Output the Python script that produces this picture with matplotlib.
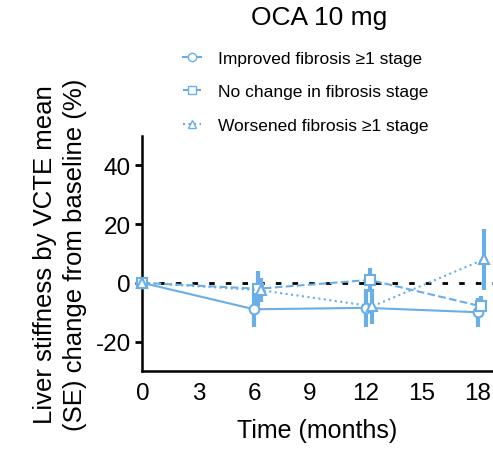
import matplotlib.pyplot as plt
from matplotlib.lines import Line2D

plt.rcParams['font.family'] = ['Liberation Sans', 'DejaVu Sans']
plt.rcParams['axes.unicode_minus'] = False

# Données
months = [0, 6, 12, 18]
improved = [0, -9.0, -8.5, -10.0]
improved_se = [0, 6.0, 6.5, 5.0]
no_change = [0, -2.0, 1.0, -8.0]
no_change_se = [0, 6.0, 4.0, 3.5]
worsened = [0, -2.5, -8.0, 8.0]
worsened_se = [0, 4.0, 6.0, 10.5]

labels = ["Improved fibrosis \u22651 stage",
          "No change in fibrosis stage",
          "Worsened fibrosis \u22651 stage"]
xticks = [0, 3, 6, 9, 12, 15, 18]
yticks = [-20, 0, 20, 40]

blue = "#6aaee8"

fig = plt.figure(figsize=(4.93, 4.52), dpi=100)
ax = fig.add_axes([0.289, 0.177, 0.71, 0.52])

series = [
    (improved, improved_se, '-', 'o', 0.0),
    (no_change, no_change_se, '--', 's', 0.2),
    (worsened, worsened_se, ':', '^', 0.35),
]

ax.axhline(0, color='black', linestyle=(0, (2, 4)), linewidth=2, zorder=1)

for vals, se, ls, mk, dx in series:
    xs = [m + dx if m > 0 else m for m in months]
    ax.errorbar(xs, vals, yerr=se, color=blue, linestyle=ls, linewidth=1.5,
                marker=mk, markersize=7, markerfacecolor='white',
                markeredgecolor=blue, markeredgewidth=1.5,
                elinewidth=3, capsize=0, clip_on=False, zorder=3)

ax.set_xlim(0, 18.8)
ax.set_ylim(-30, 50)
ax.set_xticks(xticks)
ax.set_yticks(yticks)
ax.tick_params(axis='x', length=0, labelsize=17.5, pad=8)
ax.set_xticks([3], minor=True)
ax.tick_params(axis='x', which='minor', length=4, width=2)
ax.tick_params(axis='y', length=5, width=2, labelsize=17.5)
ax.spines['top'].set_visible(False)
ax.spines['right'].set_visible(False)
ax.spines['left'].set_linewidth(1.8)
ax.spines['bottom'].set_linewidth(1.8)

ax.set_xlabel("Time (months)", fontsize=18, labelpad=10)
ax.set_ylabel("Liver stiffness by VCTE mean\n(SE) change from baseline (%)",
              fontsize=18.5, labelpad=6, linespacing=1.3)

fig.text(0.648, 0.96, "OCA 10 mg", ha='center', va='center', fontsize=19)

handles = [
    Line2D([], [], color=blue, linestyle='-', marker='o', markerfacecolor='white', markersize=6),
    Line2D([], [], color=blue, linestyle='--', marker='s', markerfacecolor='white', markersize=6),
    Line2D([], [], color=blue, linestyle=':', marker='^', markerfacecolor='white', markersize=6),
]
fig.legend(handles, labels, loc='upper left', bbox_to_anchor=(0.34, 0.92),
           frameon=False, fontsize=12.5, handlelength=1.0, labelspacing=1.05,
           handletextpad=1.0)

fig.savefig("out.png", dpi=100)
